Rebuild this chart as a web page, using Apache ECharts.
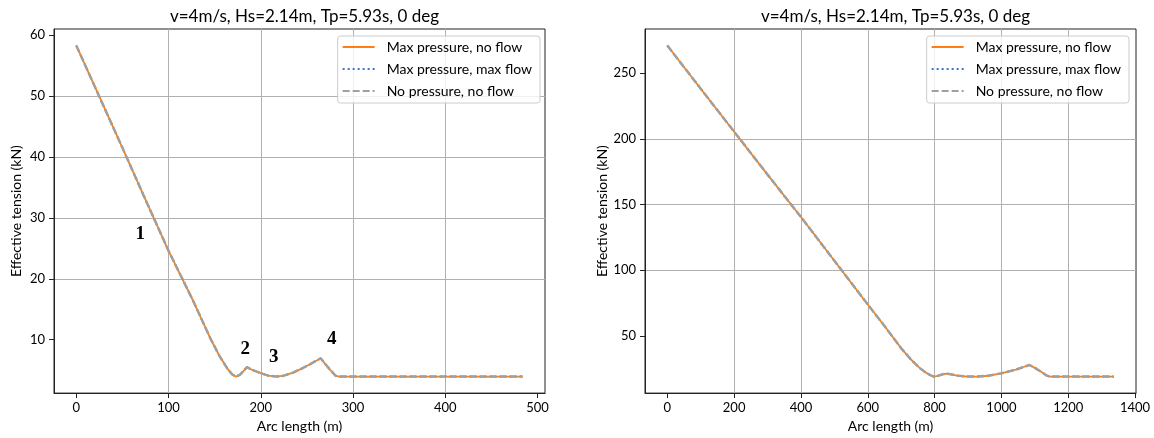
<!DOCTYPE html>
<html>
<head>
<meta charset="utf-8">
<script src="https://cdn.jsdelivr.net/npm/echarts@6/dist/echarts.min.js"></script>
<style>
  html, body { margin: 0; padding: 0; background: #fff; }
  #chart { width: 1154px; height: 438px; }
</style>
</head>
<body>
<div id="chart"></div>
<script>
// left panel: arc length (m) vs effective tension (kN)
var leftArc = [0, 25, 50, 75, 100, 126, 140, 146, 155, 164, 169, 173, 177, 181, 185, 190, 200, 208, 217, 225, 235, 245, 255, 265, 270, 275, 281, 285, 300, 400, 484];
var leftTension = [58.3, 49.9, 41.5, 33.0, 24.6, 16.6, 12.0, 10.0, 7.4, 5.2, 4.3, 3.95, 4.2, 4.8, 5.5, 5.1, 4.5, 4.1, 3.95, 4.1, 4.6, 5.3, 6.1, 6.95, 6.0, 5.1, 4.1, 3.95, 3.95, 3.95, 3.95];

// right panel
var rightArc = [0, 100, 200, 300, 400, 500, 600, 650, 700, 730, 755, 775, 790, 798, 810, 825, 836, 850, 870, 900, 930, 960, 1000, 1040, 1084, 1100, 1120, 1135, 1145, 1200, 1300, 1336];
var rightTension = [271.1, 238.2, 205.5, 172.8, 140.5, 107.2, 73.9, 57.5, 40.5, 31.8, 25.6, 21.8, 19.7, 19.0, 19.6, 20.8, 21.3, 20.6, 19.6, 19.0, 19.0, 19.6, 21.5, 24.0, 27.8, 25.6, 22.5, 19.8, 19.0, 19.0, 19.0, 19.0];

var leftXTicks = [0, 100, 200, 300, 400, 500];
var leftYTicks = [10, 20, 30, 40, 50, 60];
var rightXTicks = [0, 200, 400, 600, 800, 1000, 1200, 1400];
var rightYTicks = [50, 100, 150, 200, 250];

var seriesNames = ['Max pressure, no flow', 'Max pressure, max flow', 'No pressure, no flow'];

// numbered notes on the left panel
var noteLabels = ['1', '2', '3', '4'];
var noteX = [69.3, 183.1, 214.1, 276.9];
var noteY = [27.4, 8.5, 7.2, 10.1];

var titleText = 'v=4m/s, Hs=2.14m, Tp=5.93s, 0 deg';
var font = 'Lato';

// matplotlib style 5% margins around the data
function padMin(e) { return e.min - 0.05 * (e.max - e.min); }
function padMax(e) { return e.max + 0.05 * (e.max - e.min); }

function makeXAxis(idx, ticks, step) {
    return {
        type: 'value',
        gridIndex: idx,
        min: padMin,
        max: padMax,
        minInterval: step,
        maxInterval: step,
        name: 'Arc length (m)',
        nameLocation: 'middle',
        nameGap: 25,
        nameTextStyle: { fontFamily: font, fontSize: 14, color: '#000' },
        axisLine: { show: true, onZero: false, lineStyle: { color: '#222', width: 1 } },
        axisTick: { show: true, length: 5, customValues: ticks, lineStyle: { color: '#222' } },
        axisLabel: { customValues: ticks, margin: 8, fontFamily: font, fontSize: 13, color: '#000',
            formatter: function (v) { return String(v); } },
        splitLine: { show: true, showMinLine: false, showMaxLine: false, lineStyle: { color: '#b0b0b0', width: 1 } }
    };
}

function makeYAxis(idx, ticks, step) {
    return {
        type: 'value',
        gridIndex: idx,
        min: padMin,
        max: padMax,
        minInterval: step,
        maxInterval: step,
        name: 'Effective tension (kN)',
        nameLocation: 'middle',
        nameGap: 31,
        nameTextStyle: { fontFamily: font, fontSize: 14, color: '#000' },
        axisLine: { show: true, onZero: false, lineStyle: { color: '#222', width: 1 } },
        axisTick: { show: true, length: 5, customValues: ticks, lineStyle: { color: '#222' } },
        axisLabel: { customValues: ticks, margin: 9, fontFamily: font, fontSize: 13, color: '#000',
            formatter: function (v) { return String(v); } },
        splitLine: { show: true, showMinLine: false, showMaxLine: false, lineStyle: { color: '#b0b0b0', width: 1 } }
    };
}

function zip(xs, ys) {
    return xs.map(function (x, i) { return [x, ys[i]]; });
}

var styles = [
    { color: '#ff7f0e', type: 'solid', width: 1.8, z: 3 },
    { color: '#4472c4', type: [2, 3], width: 1.8, z: 2 },
    { color: '#a0a0a0', type: [7, 3], width: 2.5, z: 4 }
];

var series = [];
[[leftArc, leftTension, 0], [rightArc, rightTension, 1]].forEach(function (p) {
    seriesNames.forEach(function (name, k) {
        var s = {
            name: name,
            type: 'line',
            xAxisIndex: p[2],
            yAxisIndex: p[2],
            data: zip(p[0], p[1]),
            showSymbol: false,
            symbol: 'none',
            z: styles[k].z,
            color: styles[k].color,
            lineStyle: { color: styles[k].color, width: styles[k].width, type: styles[k].type },
            emphasis: { disabled: true }
        };
        if (p[2] === 0 && k === 2) {
            s.markPoint = {
                symbol: 'circle',
                symbolSize: 0,
                label: {
                    show: true,
                    position: 'inside',
                    formatter: '{b}',
                    fontFamily: 'Liberation Serif',
                    fontWeight: 'bold',
                    fontSize: 19,
                    color: '#000'
                },
                data: noteLabels.map(function (t, i) {
                    return { name: t, coord: [noteX[i], noteY[i]] };
                })
            };
        }
        series.push(s);
    });
});

function makeLegend(right) {
    return {
        data: seriesNames,
        orient: 'vertical',
        right: right,
        top: 36,
        itemWidth: 32,
        itemHeight: 14,
        itemGap: 8,
        padding: [4, 8, 5, 4],
        borderColor: '#cccccc',
        borderWidth: 1,
        borderRadius: 3,
        backgroundColor: 'rgba(255,255,255,0.8)',
        itemStyle: { opacity: 0 },
        textStyle: { fontFamily: font, fontSize: 14, color: '#000', padding: [0, 0, 0, 7] },
        selectedMode: false
    };
}

var titleStyle = { fontFamily: font, fontSize: 17, fontWeight: 'normal', color: '#000' };

var option = {
    animation: false,
    title: [
        { text: titleText, left: 299.5, top: 3, textAlign: 'center', textStyle: titleStyle },
        { text: titleText, left: 890.5, top: 3, textAlign: 'center', textStyle: titleStyle }
    ],
    legend: [makeLegend(614), makeLegend(25)],
    grid: [
        { left: 54, top: 29, width: 491, height: 365, show: true, borderColor: '#222', borderWidth: 1 },
        { left: 645, top: 29, width: 491, height: 365, show: true, borderColor: '#222', borderWidth: 1 }
    ],
    xAxis: [makeXAxis(0, leftXTicks, 100), makeXAxis(1, rightXTicks, 200)],
    yAxis: [makeYAxis(0, leftYTicks, 10), makeYAxis(1, rightYTicks, 50)],
    series: series
};

var myChart = echarts.init(document.getElementById('chart'));
myChart.setOption(option);
</script>
</body>
</html>
